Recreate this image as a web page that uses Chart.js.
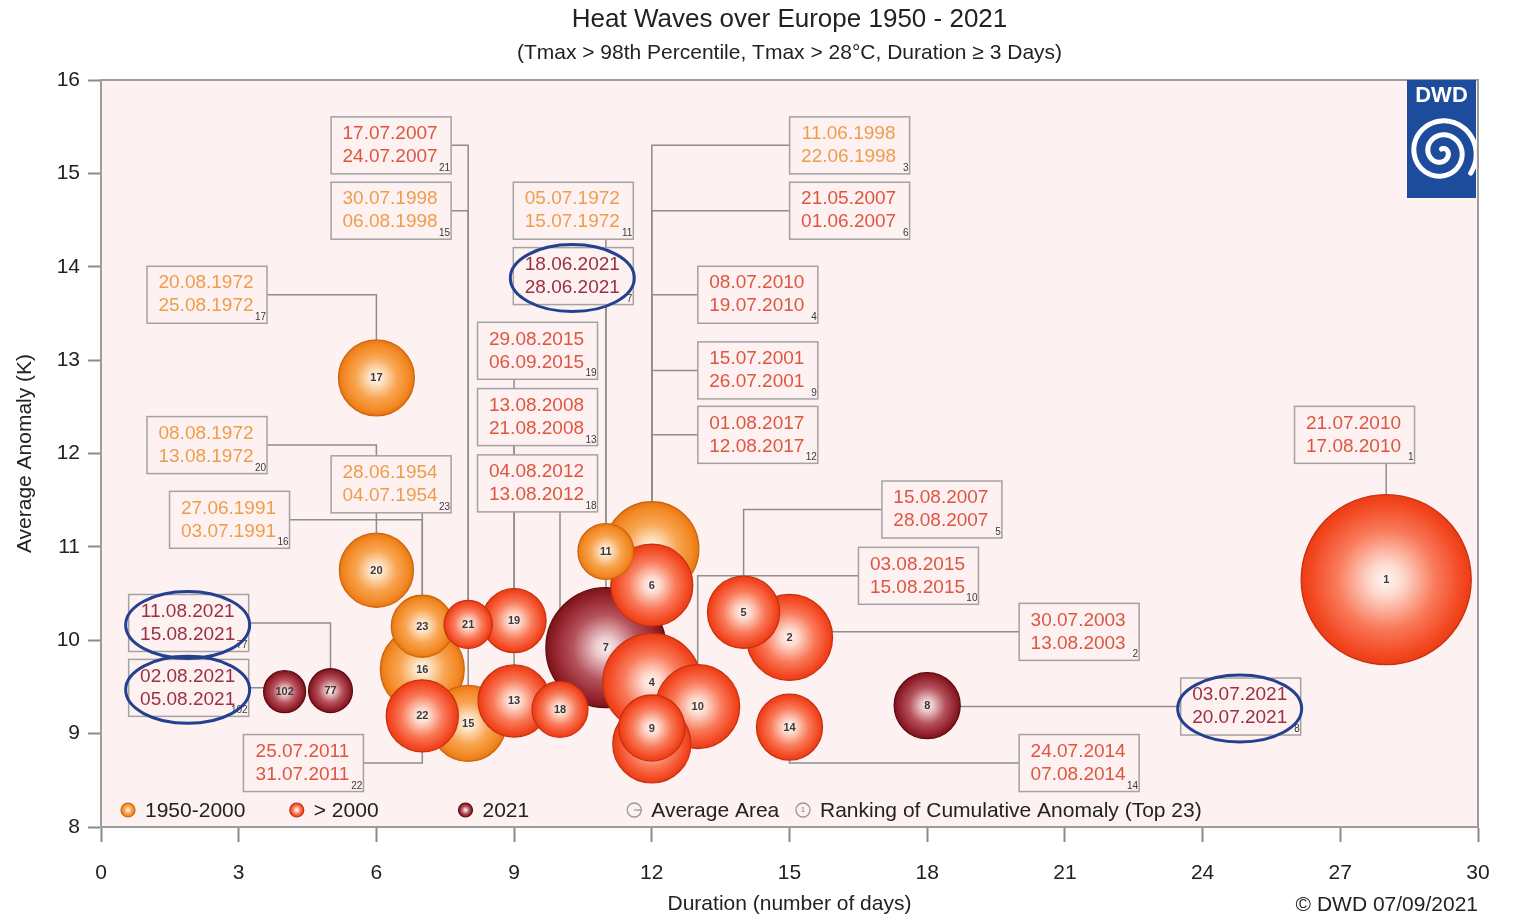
<!DOCTYPE html>
<html>
<head>
<meta charset="utf-8">
<title>Heat Waves over Europe 1950 - 2021</title>
<script src="https://cdn.jsdelivr.net/npm/chart.js@4.4.1/dist/chart.umd.min.js"></script>
<style>
  html, body { margin: 0; padding: 0; background: #ffffff; }
  #wrap { width: 1513px; height: 917px; position: relative; }
</style>
</head>
<body>
<div id="wrap"><canvas id="heatwaves" width="1513" height="917"></canvas></div>
<script>
// ---- Heat wave events, listed by ranking of cumulative anomaly ----
const ranks = [1, 2, 3, 4, 5, 6, 7, 8, 9, 10, 11, 12, 13, 14, 15, 16, 17, 18, 19, 20, 21, 22, 23, 77, 102];
const startDates = ['21.07.2010', '30.07.2003', '11.06.1998', '08.07.2010', '15.08.2007', '21.05.2007', '18.06.2021',
  '03.07.2021', '15.07.2001', '03.08.2015', '05.07.1972', '01.08.2017', '13.08.2008', '24.07.2014', '30.07.1998',
  '27.06.1991', '20.08.1972', '04.08.2012', '29.08.2015', '08.08.1972', '17.07.2007', '25.07.2011', '28.06.1954',
  '11.08.2021', '02.08.2021'];
const endDates = ['17.08.2010', '13.08.2003', '22.06.1998', '19.07.2010', '28.08.2007', '01.06.2007', '28.06.2021',
  '20.07.2021', '26.07.2001', '15.08.2015', '15.07.1972', '12.08.2017', '21.08.2008', '07.08.2014', '06.08.1998',
  '03.07.1991', '25.08.1972', '13.08.2012', '06.09.2015', '13.08.1972', '24.07.2007', '31.07.2011', '04.07.1954',
  '15.08.2021', '05.08.2021'];
// duration (days)
const durationDays = [28, 15, 12, 12, 14, 12, 11, 18, 12, 13, 11, 12, 9, 15, 8, 7, 6, 10, 9, 6, 8, 7, 7, 5, 4];
// average anomaly (K)
const avgAnomaly = [10.65, 10.03, 10.98, 9.55, 10.30, 10.59, 9.92, 9.30, 9.06, 9.29, 10.95, 8.89, 9.35, 9.07,
  9.11, 9.69, 12.81, 9.26, 10.21, 10.75, 10.17, 9.19, 10.15, 9.46, 9.45];
// average affected area (relative units, drives bubble size)
const avgArea = [72.3, 18.5, 22.1, 24.0, 13.0, 16.8, 36.0, 10.9, 10.9, 17.6, 7.8, 15.2, 13.0, 10.9,
  14.4, 17.6, 14.4, 7.8, 10.2, 13.7, 5.8, 13.0, 9.6, 4.8, 4.4];

// axis tick labels
const durationTicks = [0, 3, 6, 9, 12, 15, 18, 21, 24, 27, 30];
const anomalyTicks = [8, 9, 10, 11, 12, 13, 14, 15, 16];

// legend periods
const periods = ['1950-2000', '> 2000', '2021'];

// ---- layout of the date callouts (box centre in axis units) ----
const calloutBoxes = [
  { rank: 1, x: 27.31, y: 12.20 }, { rank: 2, x: 21.31, y: 10.09 }, { rank: 3, x: 16.31, y: 15.30 },
  { rank: 4, x: 14.31, y: 13.70 }, { rank: 5, x: 18.32, y: 11.40 }, { rank: 6, x: 16.31, y: 14.60 },
  { rank: 7, x: 10.29, y: 13.90 }, { rank: 8, x: 24.83, y: 9.29 }, { rank: 9, x: 14.31, y: 12.89 },
  { rank: 10, x: 17.81, y: 10.69 }, { rank: 11, x: 10.29, y: 14.60 }, { rank: 12, x: 14.31, y: 12.20 },
  { rank: 13, x: 9.51, y: 12.39 }, { rank: 14, x: 21.31, y: 8.685 }, { rank: 15, x: 6.32, y: 14.60 },
  { rank: 16, x: 2.80, y: 11.29 }, { rank: 17, x: 2.31, y: 13.70 }, { rank: 18, x: 9.51, y: 11.68 },
  { rank: 19, x: 9.51, y: 13.10 }, { rank: 20, x: 2.31, y: 12.09 }, { rank: 21, x: 6.32, y: 15.30 },
  { rank: 22, x: 4.41, y: 8.685 }, { rank: 23, x: 6.32, y: 11.67 }, { rank: 77, x: 1.91, y: 10.185 },
  { rank: 102, x: 1.91, y: 9.49 }
];
// callouts marked with a hand-drawn ring
const ringedCallouts = [7, 8, 77, 102];

const FONT = "'Liberation Sans', Arial, Helvetica, sans-serif";
const PLOT_BG = '#fdf1f1';
const RADIUS_PER_SQRT_AREA = 10;
const BOX_W = 120, BOX_H = 57;

const style = {
  '1950-2000': {
    stops: [[0, '#fffaf3'], [0.18, '#fde3c6'], [0.55, '#f8a551'], [0.88, '#f28722'], [1, '#e8760f']],
    border: '#c9660f', text: '#ee9d4c'
  },
  '> 2000': {
    stops: [[0, '#fff7f4'], [0.2, '#fdd8cc'], [0.58, '#f97a5a'], [0.88, '#f34a24'], [1, '#ec3c14']],
    border: '#c6300f', text: '#de5540'
  },
  '2021': {
    stops: [[0, '#f9f0f0'], [0.18, '#ebc9cb'], [0.55, '#b5525c'], [0.88, '#90202a'], [1, '#7c1418']],
    border: '#5c0c10', text: '#9a3040'
  }
};

function periodOf(date) {
  const year = +date.slice(6);
  if (year === 2021) return '2021';
  return year > 2000 ? '> 2000' : '1950-2000';
}

// bubbles, larger ones drawn first so smaller ones stay visible
const points = ranks.map((rank, i) => ({
  x: durationDays[i],
  y: avgAnomaly[i],
  r: RADIUS_PER_SQRT_AREA * Math.sqrt(avgArea[i]),
  rank: rank,
  period: periodOf(startDates[i])
})).sort((a, b) => b.r - a.r);

function sphereGradient(ctx2d, cx, cy, r, period) {
  const g = ctx2d.createRadialGradient(cx, cy, 0, cx, cy, Math.max(r, 1));
  style[period].stops.forEach(([o, c]) => g.addColorStop(o, c));
  return g;
}

// bubble controller that prints the rank on top of each bubble as it is drawn
class RankedBubbleController extends Chart.BubbleController {
  draw() {
    const chart = this.chart;
    const ctx = chart.ctx;
    const area = chart.chartArea;
    const meta = this._cachedMeta;
    const data = this.getDataset().data;
    meta.data.forEach((el, i) => {
      el.draw(ctx, area);
      ctx.save();
      ctx.font = `bold 11px ${FONT}`;
      ctx.fillStyle = '#3a3a3a';
      ctx.textAlign = 'center';
      ctx.textBaseline = 'middle';
      ctx.fillText(String(data[i].rank), el.x, el.y + 0.5);
      ctx.restore();
    });
  }
}
RankedBubbleController.id = 'rankedBubble';
Chart.register(RankedBubbleController);

function drawCallouts(chart) {
  const { ctx, scales: { x, y } } = chart;
  const boxes = calloutBoxes.map(b => {
    const i = ranks.indexOf(b.rank);
    return {
      rank: b.rank,
      cx: x.getPixelForValue(b.x), cy: y.getPixelForValue(b.y),
      px: x.getPixelForValue(durationDays[i]), py: y.getPixelForValue(avgAnomaly[i]),
      start: startDates[i], end: endDates[i], period: periodOf(startDates[i])
    };
  });
  ctx.save();
  // leader lines
  ctx.strokeStyle = '#8e8e8e';
  ctx.lineWidth = 1.5;
  boxes.forEach(b => {
    const left = b.cx - BOX_W / 2, right = b.cx + BOX_W / 2;
    const top = b.cy - BOX_H / 2, bottom = b.cy + BOX_H / 2;
    ctx.beginPath();
    if (b.px >= left && b.px <= right) {
      const sy = b.py > b.cy ? bottom : top;
      ctx.moveTo(b.px, sy);
      ctx.lineTo(b.px, b.py);
    } else {
      const sx = b.px > right ? right : left;
      ctx.moveTo(sx, b.cy);
      ctx.lineTo(b.px, b.cy);
      ctx.lineTo(b.px, b.py);
    }
    ctx.stroke();
  });
  // boxes with start / end dates
  boxes.forEach(b => {
    const left = b.cx - BOX_W / 2, top = b.cy - BOX_H / 2;
    ctx.fillStyle = PLOT_BG;
    ctx.fillRect(left, top, BOX_W, BOX_H);
    ctx.strokeStyle = '#a3a3a3';
    ctx.lineWidth = 1.5;
    ctx.strokeRect(left, top, BOX_W, BOX_H);
    ctx.fillStyle = style[b.period].text;
    ctx.font = `19px ${FONT}`;
    ctx.textAlign = 'center';
    ctx.textBaseline = 'middle';
    ctx.fillText(b.start, b.cx - 1, top + 17);
    ctx.fillText(b.end, b.cx - 1, top + 40);
    ctx.fillStyle = '#3a3a3a';
    ctx.font = `10px ${FONT}`;
    ctx.textAlign = 'right';
    ctx.textBaseline = 'alphabetic';
    ctx.fillText(String(b.rank), left + BOX_W - 1, top + BOX_H - 3);
  });
  ctx.restore();
}

function drawLegend(chart) {
  const { ctx, chartArea: a } = chart;
  const y = a.bottom - 17;
  const step = 168.75;
  const x0 = a.left + 27;
  ctx.save();
  ctx.font = `21px ${FONT}`;
  ctx.textBaseline = 'middle';
  ctx.textAlign = 'left';
  periods.forEach((p, i) => {
    const cx = x0 + i * step;
    ctx.beginPath();
    ctx.arc(cx, y, 7, 0, Math.PI * 2);
    ctx.fillStyle = sphereGradient(ctx, cx, y, 7, p);
    ctx.fill();
    ctx.strokeStyle = style[p].border;
    ctx.lineWidth = 1.2;
    ctx.stroke();
    ctx.fillStyle = '#222';
    ctx.fillText(p, cx + 17, y + 1);
  });
  // average area symbol
  let cx = x0 + 3 * step;
  ctx.strokeStyle = '#9a9a9a';
  ctx.lineWidth = 1.3;
  ctx.beginPath();
  ctx.arc(cx, y, 7, 0, Math.PI * 2);
  ctx.stroke();
  ctx.beginPath();
  ctx.moveTo(cx, y);
  ctx.lineTo(cx + 7, y);
  ctx.stroke();
  ctx.fillStyle = '#222';
  ctx.fillText('Average Area', cx + 17, y + 1);
  // ranking symbol
  cx = x0 + 4 * step;
  ctx.beginPath();
  ctx.arc(cx, y, 7, 0, Math.PI * 2);
  ctx.stroke();
  ctx.font = `7px ${FONT}`;
  ctx.textAlign = 'center';
  ctx.fillStyle = '#777';
  ctx.fillText('1', cx, y + 0.5);
  ctx.font = `21px ${FONT}`;
  ctx.textAlign = 'left';
  ctx.fillStyle = '#222';
  ctx.fillText('Ranking of Cumulative Anomaly (Top 23)', cx + 17, y + 1);
  ctx.restore();
}

function drawLogo(chart) {
  const { ctx, chartArea: a } = chart;
  const w = 69, h = 118;
  const left = a.right - w - 2, top = a.top;
  ctx.save();
  ctx.fillStyle = '#1e4c9c';
  ctx.fillRect(left, top, w, h);
  ctx.fillStyle = '#ffffff';
  ctx.font = `bold 22px ${FONT}`;
  ctx.textAlign = 'center';
  ctx.textBaseline = 'middle';
  ctx.fillText('DWD', left + w / 2, top + 16);
  ctx.beginPath();
  ctx.rect(left, top, w, h);
  ctx.clip();
  const cx = left + w / 2, cy = top + 72;
  ctx.strokeStyle = '#ffffff';
  ctx.lineWidth = 5;
  ctx.lineCap = 'round';
  ctx.beginPath();
  const turns = 2.35, steps = 240;
  for (let s = 0; s <= steps; s++) {
    const t = s / steps;
    const ang = -Math.PI / 2 + t * turns * Math.PI * 2;
    const rr = 3 + t * 33;
    const px = cx + rr * Math.cos(ang), py = cy + rr * Math.sin(ang);
    if (s === 0) ctx.moveTo(px, py); else ctx.lineTo(px, py);
  }
  ctx.stroke();
  ctx.restore();
}

function drawFrame(chart) {
  const { ctx, chartArea: a } = chart;
  ctx.save();
  ctx.strokeStyle = '#9d9d9d';
  ctx.lineWidth = 2;
  ctx.beginPath();
  ctx.moveTo(a.left, a.top);
  ctx.lineTo(a.right, a.top);
  ctx.lineTo(a.right, a.bottom);
  ctx.stroke();
  ctx.restore();
}

function drawRings(chart) {
  const { ctx, scales: { x, y } } = chart;
  ctx.save();
  ctx.strokeStyle = '#24418f';
  ctx.lineWidth = 3;
  ringedCallouts.forEach(rank => {
    const b = calloutBoxes.find(c => c.rank === rank);
    const cx = x.getPixelForValue(b.x) - 1, cy = y.getPixelForValue(b.y) + 2;
    ctx.beginPath();
    ctx.ellipse(cx, cy, BOX_W / 2 + 2, BOX_H / 2 + 5, 0, 0, Math.PI * 2);
    ctx.stroke();
  });
  ctx.restore();
}

const decorations = {
  id: 'heatwaveDecorations',
  beforeDraw(chart) {
    const { ctx, chartArea: a } = chart;
    ctx.save();
    ctx.fillStyle = '#ffffff';
    ctx.fillRect(0, 0, chart.width, chart.height);
    ctx.fillStyle = PLOT_BG;
    ctx.fillRect(a.left, a.top, a.right - a.left, a.bottom - a.top);
    ctx.restore();
  },
  beforeDatasetsDraw(chart) {
    drawCallouts(chart);
  },
  afterDatasetsDraw(chart) {
    drawFrame(chart);
    drawLegend(chart);
    drawLogo(chart);
  },
  afterDraw(chart) {
    const { ctx, chartArea: a } = chart;
    drawRings(chart);
    ctx.save();
    ctx.font = `21px ${FONT}`;
    ctx.fillStyle = '#222';
    ctx.textAlign = 'right';
    ctx.textBaseline = 'middle';
    ctx.fillText('\u00A9 DWD 07/09/2021', a.right, chart.height - 12);
    ctx.restore();
  }
};

Chart.defaults.font.family = FONT;

new Chart(document.getElementById('heatwaves'), {
  type: 'rankedBubble',
  data: {
    datasets: [{
      label: 'Heat waves',
      data: points,
      backgroundColor(c) {
        if (c.type !== 'data' || !c.chart.chartArea) return '#f05030';
        const p = c.raw;
        const sx = c.chart.scales.x, sy = c.chart.scales.y;
        return sphereGradient(c.chart.ctx, sx.getPixelForValue(p.x), sy.getPixelForValue(p.y), p.r, p.period);
      },
      borderColor(c) {
        return c.type === 'data' ? style[c.raw.period].border : '#888';
      },
      borderWidth: 1.3
    }]
  },
  options: {
    responsive: false,
    animation: false,
    events: [],
    layout: { autoPadding: false, padding: { left: 0, right: 35, top: 0, bottom: 0 } },
    plugins: {
      legend: { display: false },
      tooltip: { enabled: false },
      title: {
        display: true,
        fullSize: false,
        text: 'Heat Waves over Europe 1950 - 2021',
        color: '#222',
        font: { size: 26, weight: 'normal' },
        padding: { top: 4.4, bottom: 4.8 }
      },
      subtitle: {
        display: true,
        fullSize: false,
        text: '(Tmax > 98th Percentile, Tmax > 28\u00B0C, Duration \u2265 3 Days)',
        color: '#222',
        font: { size: 21 },
        padding: { top: 0, bottom: 14.4 }
      }
    },
    scales: {
      x: {
        type: 'linear',
        min: 0,
        max: 30,
        afterBuildTicks(scale) { scale.ticks = durationTicks.map(v => ({ value: v })); },
        afterFit(scale) { scale.height = 90; },
        grid: { drawOnChartArea: false, drawTicks: true, tickLength: 15, color: '#8a8a8a', tickWidth: 2 },
        border: { display: true, color: '#9d9d9d', width: 2 },
        ticks: { padding: 19, color: '#222', font: { size: 21 } },
        title: {
          display: true, text: 'Duration (number of days)', color: '#222',
          font: { size: 21 }, padding: { top: 0, bottom: 0 }
        }
      },
      y: {
        type: 'linear',
        min: 8,
        max: 16,
        afterBuildTicks(scale) { scale.ticks = anomalyTicks.map(v => ({ value: v })); },
        afterFit(scale) { scale.width = 101; },
        grid: { drawOnChartArea: false, drawTicks: true, tickLength: 13, color: '#8a8a8a', tickWidth: 2 },
        border: { display: true, color: '#9d9d9d', width: 2 },
        ticks: { padding: 8, color: '#222', font: { size: 21 } },
        title: {
          display: true, text: 'Average Anomaly (K)', color: '#222',
          font: { size: 21 }, padding: { top: 12.4, bottom: 0 }
        }
      }
    }
  },
  plugins: [decorations]
});
</script>
</body>
</html>
